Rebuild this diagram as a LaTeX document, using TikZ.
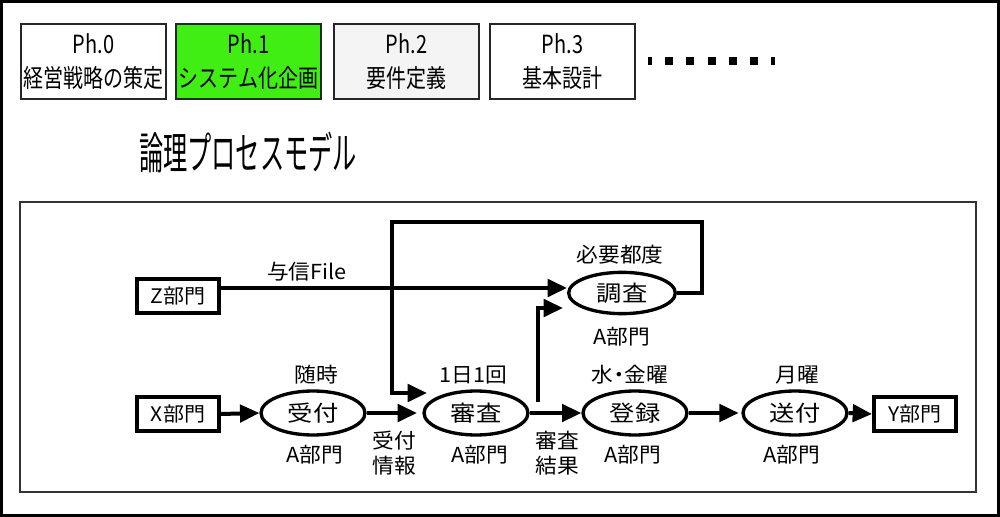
\documentclass[tikz,border=0pt]{standalone}
\usepackage{fontspec}
\setmainfont{Noto Sans CJK JP}
\newfontfamily\condfont[FakeStretch=0.8]{Noto Sans CJK JP}
\newfontfamily\titlefont[FakeStretch=0.55]{Noto Sans CJK JP}
\newfontfamily\widefont[FakeStretch=1.15]{Noto Sans CJK JP}
\newfontfamily\lblfont[FakeStretch=1.05]{Noto Sans CJK JP}
\usetikzlibrary{arrows.meta,shapes.geometric}
\definecolor{phgreen}{RGB}{64,238,20}
\definecolor{phgrey}{RGB}{244,244,244}
\begin{document}
\begin{tikzpicture}[x=0.75pt,y=-0.75pt,
  phasebox/.style={draw=black!85,line width=1.5pt,minimum width=108.75pt,minimum height=56.25pt,inner sep=0pt,align=center,font=\condfont\fontsize{18.75}{25.5}\selectfont},
  deptbox/.style={draw=black,line width=3pt,minimum width=61.5pt,minimum height=25.5pt,inner sep=0pt,font=\lblfont\fontsize{15}{18}\selectfont},
  proc/.style={ellipse,draw=black,line width=2.5pt,minimum width=78pt,minimum height=33pt,inner sep=0pt,font=\widefont\fontsize{16.5}{18}\selectfont},
  lbl/.style={inner sep=0pt,align=center,font=\lblfont\fontsize{15.5}{18.75}\selectfont},
  flowarrow/.style={line width=3pt,-{Triangle[length=14.5pt,width=13pt]}},
  flowline/.style={line width=3pt}]
\useasboundingbox (0,0) rectangle (1000,517);
% outer frame
\draw[line width=2.25pt] (1.5,1.5) rectangle (998.5,515.5);
% phase boxes
\node[phasebox] (p0) at (93.5,61.5) {Ph.0\\経営戦略の策定};
\node[phasebox,fill=phgreen] (p1) at (248.5,61.5) {Ph.1\\システム化企画};
\node[phasebox,fill=phgrey] (p2) at (406.5,61.5) {Ph.2\\要件定義};
\node[phasebox] (p3) at (562.5,61.5) {Ph.3\\基本設計};
\coordinate (d0) at (648,61);
\coordinate (d1) at (775,61);
\draw[line width=6pt,dash pattern=on 6pt off 9.9pt,dash phase=3pt] (d0) -- (d1);
% title
\node[inner sep=0pt,font=\titlefont\fontsize{33}{36}\selectfont] (title) at (248,152) {論理プロセスモデル};
% inner frame
\draw[line width=1.5pt,draw=black!80] (20,202) rectangle (976,492);
% departments
\node[deptbox] (Z) at (178,296) {Z部門};
\node[deptbox] (X) at (178,414) {X部門};
\node[deptbox] (Y) at (915,414) {Y部門};
% processes
\node[proc] (uke) at (313,413) {受付};
\node[proc] (shinsa) at (476,413) {審査};
\node[proc] (toroku) at (635,413) {登録};
\node[proc] (sofu) at (795,413) {送付};
\node[proc,minimum width=80pt,minimum height=31pt] (chosa) at (622,293) {調査};
% labels
\node[lbl] (lfile) at (307,272) {与信File};
\node[lbl] (l1) at (316,375) {随時};
\node[lbl] (l2) at (315,455) {A部門};
\node[lbl] (l3) at (394,453) {受付\\情報};
\node[lbl] (l4) at (473,375) {1日1回};
\node[lbl] (l5) at (480,455) {A部門};
\node[lbl] (l6) at (557,453) {審査\\結果};
\node[lbl] (l7) at (620,255) {必要都度};
\node[lbl] (l8) at (622,337) {A部門};
\node[lbl] (l9) at (630,375) {水{\kern-0.25em}・{\kern-0.25em}金曜};
\node[lbl] (l10) at (633,455) {A部門};
\node[lbl] (l11) at (797,375) {月曜};
\node[lbl] (l12) at (792,455) {A部門};
% connectors
\draw[flowarrow] ([yshift=6pt]Z.east) -- ([yshift=3.75pt]chosa.west);
\draw[flowarrow] (X.east) -- (uke.west);
\draw[flowarrow] (uke.east) -- ([xshift=-4pt]shinsa.west);
\draw[flowarrow] (shinsa.east) -- (toroku.west);
\draw[flowarrow] (toroku.east) -- ([xshift=-2pt]sofu.west);
\draw[flowarrow] (sofu.east) -- (Y.west);
\coordinate (b1) at (538,402);
\draw[flowarrow] (b1) |- ([xshift=-3pt,yshift=-11.25pt]chosa.west);
\coordinate (lp1) at (702,222);
\coordinate (lp2) at (392,222);
\coordinate (lt) at (427,393);
\draw[flowarrow,line join=miter] (chosa.east) -| (lp1) -- (lp2) |- (lt);
\end{tikzpicture}
\end{document}
